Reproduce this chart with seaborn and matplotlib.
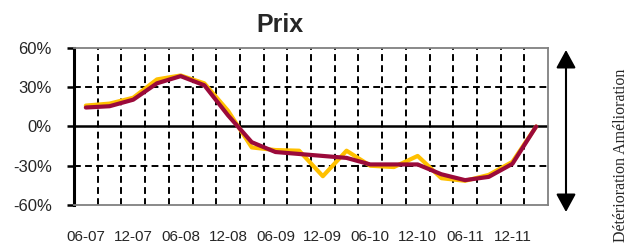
import seaborn as sns
import matplotlib.pyplot as plt
import pandas as pd

# quarterly periods, Jun 2007 -> Mar 2012
periods = ['06-07', '09-07', '12-07', '03-08', '06-08', '09-08', '12-08', '03-09',
           '06-09', '09-09', '12-09', '03-10', '06-10', '09-10', '12-10', '03-11',
           '06-11', '09-11', '12-11', '03-12']
prix_brut = [16, 17.5, 22, 36, 39, 33, 12, -16, -18, -18.5, -38, -18.5,
             -30, -31, -22.5, -39.5, -41.5, -37, -27, 0]
prix_lisse = [14.5, 15.5, 20.5, 33, 38.5, 31.5, 8.5, -12, -19.5, -21, -22.5, -24,
              -29, -29, -29, -36.5, -41, -38.5, -28.5, 0]
yticks = [-60, -30, 0, 30, 60]

n = len(periods)
df = pd.DataFrame({
    'pos': list(range(n)) * 2,
    'val': prix_brut + prix_lisse,
    'serie': ['brut'] * n + ['lisse'] * n,
})

sns.set_style('white')
plt.rcParams['font.family'] = ['Liberation Sans', 'DejaVu Sans']

fig = plt.figure(figsize=(6.4, 2.5), dpi=100)
ax = fig.add_axes([74 / 640, 1 - 205 / 250, 474 / 640, 157 / 250])

# grid first
for k in range(n - 1):
    ax.axvline(k + 0.5, color='black', lw=1.4, ls=(0, (3.5, 2.2)), zorder=1)
for v in [30, -30]:
    ax.axhline(v, color='black', lw=1.4, ls=(0, (3.5, 2.2)), zorder=1)
ax.axhline(0, color='black', lw=1.8, zorder=1.5)

sns.lineplot(data=df, x='pos', y='val', hue='serie',
             palette={'brut': '#FFC000', 'lisse': '#9B0A3A'},
             linewidth=3, legend=False, ax=ax, zorder=3)

ax.set_xlim(-0.5, n - 0.5)
ax.set_ylim(-60, 60)
ax.set_xlabel('')
ax.set_ylabel('')
ax.set_yticks(yticks)
ax.set_yticklabels([f'{v}%' for v in yticks], fontsize=12)
ax.set_xticks(range(0, n - 1, 2))
ax.set_xticklabels(periods[0:n - 1:2], fontsize=11)
ax.tick_params(axis='x', length=0, pad=18)
ax.tick_params(axis='y', length=5, width=1.8, color='black', direction='out',
               left=True, pad=11)

for s in ['top', 'right', 'bottom']:
    ax.spines[s].set_color('#808080')
    ax.spines[s].set_linewidth(1.3)
ax.spines['left'].set_color('black')
ax.spines['left'].set_linewidth(2.2)

fig.text(280 / 640, 1 - 32 / 250, 'Prix', ha='center', va='baseline',
         fontsize=18, fontweight='bold')

# double arrow on the right
ax.annotate('', xy=(566 / 640, 1 - 50 / 250), xytext=(566 / 640, 1 - 212 / 250),
            xycoords='figure fraction', textcoords='figure fraction',
            arrowprops=dict(arrowstyle='<|-|>,head_length=1.1,head_width=0.6',
                            mutation_scale=10, lw=1.5, color='black',
                            shrinkA=0, shrinkB=0))

fig.text(621 / 640, 1 - 155 / 250, 'Détérioration Amélioration', rotation=90,
         ha='center', va='center', fontsize=11.5, family='Liberation Serif')

fig.savefig('out.png', dpi=100)
